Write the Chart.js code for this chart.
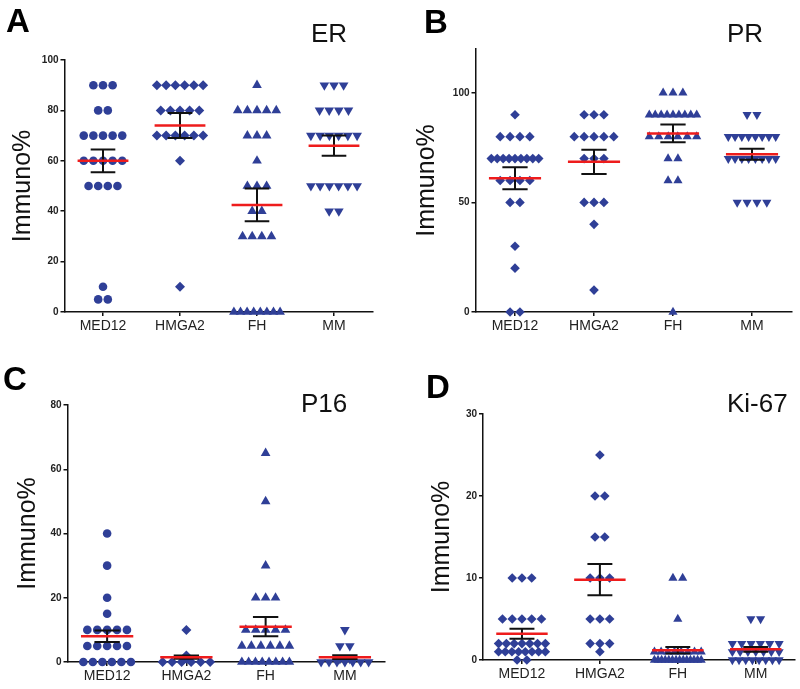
<!DOCTYPE html>
<html>
<head>
<meta charset="utf-8">
<script src="https://cdn.jsdelivr.net/npm/chart.js@4"></script>
<style>
  body { margin: 0; background: #fff; }
  #fig { position: relative; width: 800px; height: 689px; font-family: "Liberation Sans", Arial, sans-serif; }
  canvas { position: absolute; }
  .letter { position: absolute; font-weight: bold; font-size: 33px; line-height: 1; color: #000; }
  .title { position: absolute; font-size: 26px; line-height: 1; color: #111; }
</style>
</head>
<body>
<div id="fig">
  <canvas id="panel-a" width="395" height="335" style="left:0;top:0"></canvas>
  <canvas id="panel-b" width="405" height="335" style="left:395px;top:0"></canvas>
  <canvas id="panel-c" width="395" height="354" style="left:0;top:335px"></canvas>
  <canvas id="panel-d" width="405" height="354" style="left:395px;top:335px"></canvas>
  <div class="letter" style="left:6px;top:4px">A</div>
  <div class="letter" style="left:424px;top:5px">B</div>
  <div class="letter" style="left:3px;top:362px">C</div>
  <div class="letter" style="left:426px;top:370px">D</div>
  <div class="title" style="left:311px;top:20px">ER</div>
  <div class="title" style="left:727px;top:20px">PR</div>
  <div class="title" style="left:301px;top:390px">P16</div>
  <div class="title" style="left:727px;top:390px">Ki-67</div>
</div>
<script>
const groups = ['MED12', 'HMGA2', 'FH', 'MM'];

// A - ER
const erValues = [
  [90, 90, 90, 80, 80, 70, 70, 70, 70, 70, 60, 60, 60, 60, 60, 50, 50, 50, 50, 10, 5, 5],
  [90, 90, 90, 90, 90, 90, 80, 80, 80, 80, 80, 70, 70, 70, 70, 70, 70, 60, 10],
  [90, 80, 80, 80, 80, 80, 70, 70, 70, 60, 50, 50, 50, 40, 40, 30, 30, 30, 30, 0, 0, 0, 0, 0, 0, 0, 0],
  [90, 90, 90, 80, 80, 80, 80, 70, 70, 70, 70, 70, 70, 50, 50, 50, 50, 50, 50, 40, 40]
];
const erMeans = [60, 74, 42.5, 66];
const erSems = [4.5, 5, 6.5, 4];

// B - PR
const prValues = [
  [90, 80, 80, 80, 80, 70, 70, 70, 70, 70, 70, 70, 70, 70, 60, 60, 60, 60, 50, 50, 30, 20, 0, 0],
  [90, 90, 90, 80, 80, 80, 80, 80, 70, 70, 70, 50, 50, 50, 40, 10],
  [100, 100, 100, 90, 90, 90, 90, 90, 90, 90, 90, 90, 80, 80, 80, 80, 80, 80, 70, 70, 60, 60, 0],
  [90, 90, 80, 80, 80, 80, 80, 80, 80, 80, 70, 70, 70, 70, 70, 70, 70, 70, 50, 50, 50, 50]
];
const prMeans = [61, 68.5, 81.5, 72];
const prSems = [5, 5.5, 4, 2.5];

// C - P16
const p16Values = [
  [40, 30, 20, 15, 10, 10, 10, 10, 10, 5, 5, 5, 5, 5, 0, 0, 0, 0, 0, 0],
  [10, 2, 1, 0, 0, 0, 0, 0, 0],
  [65, 50, 30, 20, 20, 20, 10, 10, 10, 10, 10, 5, 5, 5, 5, 5, 5, 0, 0, 0, 0, 0, 0, 0, 0],
  [10, 5, 5, 1, 1, 0, 0, 0, 0, 0, 0, 0]
];
const p16Means = [8, 1.5, 11, 1.5];
const p16Sems = [1.8, 0.5, 3, 0.6];

// D - Ki-67
const kiValues = [
  [10, 10, 10, 5, 5, 5, 5, 5, 2, 2, 2, 2, 2, 2, 2, 1, 1, 1, 1, 1, 1, 1, 1, 0, 0],
  [25, 20, 20, 15, 15, 10, 10, 10, 5, 5, 5, 2, 2, 2, 1],
  [10, 10, 5, 1, 1, 1, 1, 1, 1, 1, 1, 0, 0, 0, 0, 0, 0, 0, 0, 0, 0, 0, 0, 0, 0],
  [5, 5, 2, 2, 2, 2, 2, 2, 1, 1, 1, 1, 1, 1, 1, 0, 0, 0, 0, 0, 0, 0, 0]
];
const kiMeans = [3.2, 9.8, 1.2, 1.3];
const kiSems = [0.6, 1.9, 0.4, 0.3];

const dotColor = '#2f3f97';

// spread equal values sideways like a dot plot
function spread(values, idx) {
  const counts = {};
  values.forEach(v => counts[v] = (counts[v] || 0) + 1);
  const seen = {};
  return values.map(v => {
    const n = counts[v];
    const k = seen[v] = (seen[v] === undefined ? 0 : seen[v] + 1);
    const step = n > 1 ? Math.min(0.125, 0.6 / (n - 1)) : 0;
    return { x: idx + (k - (n - 1) / 2) * step, y: v };
  });
}

function makePanel(id, p) {
  const datasets = [];
  p.values.forEach((vals, i) => {
    datasets.push({
      data: spread(vals, i),
      pointStyle: p.styles[i],
      rotation: i === 3 ? 180 : 0,
      pointRadius: p.radius[i],
      backgroundColor: dotColor,
      borderColor: dotColor,
      borderWidth: 0,
      showLine: false,
      clip: false,
      order: 3
    });
  });
  const meanPts = [];
  const semPts = [];
  p.means.forEach((m, i) => {
    meanPts.push({ x: i - 0.33, y: m }, { x: i + 0.33, y: m }, { x: i + 0.4, y: null });
    const hi = m + p.sems[i], lo = m - p.sems[i];
    semPts.push({ x: i - 0.16, y: hi }, { x: i + 0.16, y: hi }, { x: i + 0.2, y: null });
    semPts.push({ x: i, y: hi }, { x: i, y: lo }, { x: i + 0.2, y: null });
    semPts.push({ x: i - 0.16, y: lo }, { x: i + 0.16, y: lo }, { x: i + 0.2, y: null });
  });
  datasets.push({ data: semPts, showLine: true, pointRadius: 0, borderColor: '#111', borderWidth: 2, spanGaps: false, clip: false, order: 2 });
  datasets.push({ data: meanPts, showLine: true, pointRadius: 0, borderColor: '#ee1c1c', borderWidth: 2.5, spanGaps: false, clip: false, order: 1 });

  new Chart(document.getElementById(id), {
    type: 'scatter',
    data: { datasets },
    options: {
      responsive: false,
      animation: false,
      devicePixelRatio: 1,
      layout: { padding: { top: p.top, right: p.right, left: 0, bottom: 0 } },
      plugins: { legend: { display: false }, tooltip: { enabled: false } },
      scales: {
        x: {
          type: 'linear',
          min: -0.5,
          max: 3.5,
          afterBuildTicks: s => { s.ticks = groups.map((_, i) => ({ value: i })); },
          afterFit: s => { s.height = p.xHeight; },
          grid: { drawOnChartArea: false, tickLength: 4, color: '#111', lineWidth: 1.5 },
          border: { color: '#111', width: 1.5 },
          ticks: {
            callback: v => groups[v],
            color: '#222',
            padding: 2,
            font: { family: 'Liberation Sans', size: 14 }
          }
        },
        y: {
          min: 0,
          max: p.yMax,
          afterBuildTicks: s => { s.ticks = s.ticks.filter(t => t.value % p.yStep === 0); },
          afterFit: s => { s.width = p.yWidth; },
          grid: { drawOnChartArea: false, tickLength: 4, color: '#111', lineWidth: 1.5 },
          border: { color: '#111', width: 1.5 },
          ticks: {
            stepSize: p.yStep,
            color: '#222',
            padding: 2,
            font: { family: 'Liberation Sans', size: 10, weight: 'bold' }
          },
          title: {
            display: true,
            text: 'Immuno%',
            color: '#111',
            padding: { top: p.titlePad, bottom: 0 },
            font: { family: 'Liberation Sans', size: 25 }
          }
        }
      }
    }
  });
}

makePanel('panel-a', {
  values: erValues, means: erMeans, sems: erSems,
  styles: ['circle', 'rectRot', 'triangle', 'triangle'], radius: [4.3, 5, 5.6, 5.6],
  yMax: 100, yStep: 20, top: 60, right: 22.5, yWidth: 64.5, xHeight: 23, titlePad: 8
});
makePanel('panel-b', {
  values: prValues, means: prMeans, sems: prSems,
  styles: ['rectRot', 'rectRot', 'triangle', 'triangle'], radius: [4.8, 4.8, 5.3, 5.3],
  yMax: 120, yStep: 50, top: 49, right: 8.5, yWidth: 80.5, xHeight: 23, titlePad: 17
});
makePanel('panel-c', {
  values: p16Values, means: p16Means, sems: p16Sems,
  styles: ['circle', 'rectRot', 'triangle', 'triangle'], radius: [4.3, 5, 5.6, 5.6],
  yMax: 80, yStep: 20, top: 70, right: 10.5, yWidth: 67.5, xHeight: 27, titlePad: 13
});
makePanel('panel-d', {
  values: kiValues, means: kiMeans, sems: kiSems,
  styles: ['rectRot', 'rectRot', 'triangle', 'triangle'], radius: [4.8, 4.8, 5.3, 5.3],
  yMax: 30, yStep: 10, top: 79, right: 4, yWidth: 88, xHeight: 29, titlePad: 32
});
</script>
</body>
</html>
